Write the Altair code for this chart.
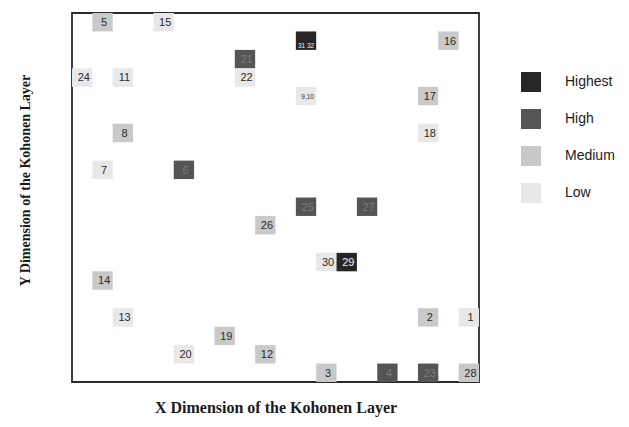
import altair as alt
import pandas as pd

# Node labels on the Kohonen map, their grid column / row (row 0 = top) and class
labels = ["5", "15", "31 32", "16", "21", "24", "11", "22", "9,10", "17",
          "8", "18", "7", "6", "25", "27", "26", "30", "29", "14",
          "13", "2", "1", "19", "20", "12", "3", "4", "23", "28"]
cols = [1, 4, 11, 18, 8, 0, 2, 8, 11, 17,
        2, 17, 1, 5, 11, 14, 9, 12, 13, 1,
        2, 17, 19, 7, 5, 9, 12, 15, 17, 19]
rows = [0, 0, 1, 1, 2, 3, 3, 3, 4, 4,
        6, 6, 8, 8, 10, 10, 11, 13, 13, 14,
        16, 16, 16, 17, 18, 18, 19, 19, 19, 19]
levels = ["Medium", "Low", "Highest", "Medium", "High", "Low", "Low", "Low", "Low", "Medium",
          "Medium", "Low", "Low", "High", "High", "High", "Medium", "Low", "Highest", "Medium",
          "Low", "Medium", "Low", "Medium", "Low", "Medium", "Medium", "High", "High", "Medium"]

level_order = ["Highest", "High", "Medium", "Low"]
level_colors = ["#262626", "#555555", "#c9c9c9", "#e8e8e8"]
text_colors = {"Highest": "#f2f2f2", "High": "#7c7c7c", "Medium": "#2a2a2a", "Low": "#2a2a2a"}

df = pd.DataFrame({"label": labels, "col": cols, "row": rows, "level": levels})
df["col2"] = df["col"] + 1
df["row2"] = df["row"] + 1
df["tx"] = df["col"] + 0.58
df["ty"] = df["row"] + 0.55
df["tcolor"] = df["level"].map(text_colors)
df["fsize"] = df["label"].map(lambda s: 6.5 if ("," in s or " " in s) else 11)
df.loc[df["label"] == "31 32", "ty"] = df.loc[df["label"] == "31 32", "row"] + 0.78
df.loc[df["label"] == "31 32", "tx"] = df.loc[df["label"] == "31 32", "col"] + 0.5

xs = alt.Scale(domain=[0, 20], nice=False, zero=False)
ys = alt.Scale(domain=[0, 20], nice=False, zero=False, reverse=True)

xaxis = alt.Axis(title="X Dimension of the Kohonen Layer", labels=False, ticks=False,
                 domain=False, grid=False, titleFont="Liberation Serif", titleFontSize=16,
                 titleFontWeight="bold", titleColor="#1a1a1a", titlePadding=17)
yaxis = alt.Axis(title="Y Dimension of the Kohonen Layer", labels=False, ticks=False,
                 domain=False, grid=False, titleFont="Liberation Serif", titleFontSize=14,
                 titleFontWeight="bold", titleColor="#1a1a1a", titleAngle=270,
                 titleX=-40, titleY=167, titleBaseline="bottom", titleAlign="center")

rects = alt.Chart(df).mark_rect().encode(
    x=alt.X("col:Q", scale=xs, axis=xaxis),
    x2="col2:Q",
    y=alt.Y("row:Q", scale=ys, axis=yaxis),
    y2="row2:Q",
    color=alt.Color("level:N", scale=alt.Scale(domain=level_order, range=level_colors),
                    legend=alt.Legend(title=None, orient="none", legendX=449, legendY=59,
                                      symbolType="square", symbolSize=400,
                                      symbolStrokeWidth=0, labelFont="Liberation Sans",
                                      labelFontSize=14, labelColor="#1a1a1a",
                                      labelOffset=24, rowPadding=17)),
)

texts = alt.Chart(df).mark_text(font="Liberation Sans", align="center", baseline="middle").encode(
    x=alt.X("tx:Q", scale=xs),
    y=alt.Y("ty:Q", scale=ys),
    text="label:N",
    color=alt.Color("tcolor:N", scale=None),
    size=alt.Size("fsize:Q", scale=None),
)

chart = (rects + texts).properties(
    width=407, height=369,
    background="white",
    autosize=alt.AutoSizeParams(type="none"),
    padding={"left": 64, "top": 5, "right": 142, "bottom": 35},
).configure_view(stroke="#2a2a2a", strokeWidth=1.8)

chart.save("out.html", embed_options={"renderer": "svg", "actions": False})
